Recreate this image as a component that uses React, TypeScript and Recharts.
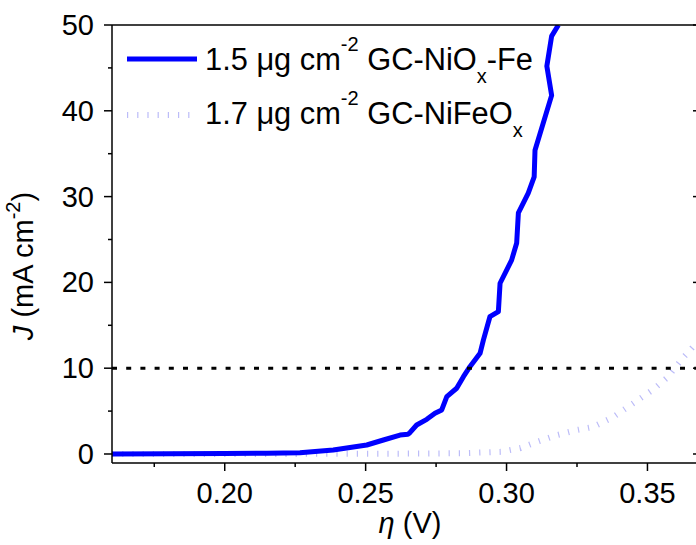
import { LineChart, Line, XAxis, YAxis, ReferenceLine, Label } from 'recharts'

// ─── Style ───────────────────────────────────────────────────────────────────
const FONT = 'Arial, "Liberation Sans", sans-serif'
const BLUE = '#0000ff'
const LAVENDER = '#bcbcf8'
const INK = '#000000'

// ─── Data: GC-NiOx-Fe (1.5 µg cm-2) ─────────────────────────────────────────
const etaFe = [
  0.160, 0.180, 0.200, 0.215, 0.2267, 0.2385, 0.2504, 0.2563, 0.2622, 0.2650,
  0.2657, 0.2681, 0.2717, 0.2746, 0.2770, 0.2788, 0.2823, 0.2847, 0.2870, 0.2906,
  0.2918, 0.2941, 0.2971, 0.2977, 0.3018, 0.3036, 0.3042, 0.3077, 0.3098, 0.3101,
  0.3160, 0.3143, 0.3160, 0.3184,
]
const jFe = [
  0.0, 0.02, 0.05, 0.1, 0.15, 0.47, 1.05, 1.63, 2.21, 2.3,
  2.48, 3.38, 4.04, 4.74, 5.13, 6.68, 7.66, 9.01, 10.17, 11.74,
  13.3, 16.0, 16.6, 19.9, 22.6, 24.6, 28.1, 30.4, 32.3, 35.4,
  41.8, 45.2, 48.7, 50.0,
]

// ─── Data: GC-NiFeOx (1.7 µg cm-2) ──────────────────────────────────────────
const etaNiFe = [
  0.160, 0.200, 0.240, 0.270, 0.285, 0.298, 0.305, 0.3107, 0.3179, 0.3250,
  0.3307, 0.3378, 0.3449, 0.3520, 0.3570, 0.3626, 0.3690,
]
const jNiFe = [
  0.0, 0.0, 0.02, 0.05, 0.1, 0.25, 0.7, 1.4, 2.2, 2.8,
  3.15, 4.3, 5.9, 7.5, 8.9, 11.2, 13.5,
]

// ─── Axes ─────────────────────────────────────────────────────────────────────
const xDomain = [0.16, 0.369]
const yDomain = [-1.05, 50]
const xMajor = [0.2, 0.25, 0.3, 0.35]
const xMinor = [0.175, 0.225, 0.275, 0.325]
const topTicks = [0.181, 0.2164, 0.2516, 0.2867, 0.3218, 0.3571]
const yMajor = [0, 10, 20, 30, 40, 50]
const yMinor = [5, 15, 25, 35, 45]
const refJ = 10

const feData = etaFe.map((eta, i) => ({ eta, j: jFe[i] }))
const niFeData = etaNiFe.map((eta, i) => ({ eta, j: jNiFe[i] }))
const xTicks = [...xMinor, ...xMajor].sort((a, b) => a - b)
const yTicks = [...yMajor, ...yMinor].sort((a, b) => a - b)

// ─── Tick renderers (tickSize/tickMargin are 0, so x/y sit on the axis) ──────
function BottomTick({ x, y, payload }: any) {
  const major = xMajor.includes(payload.value)
  return (
    <g>
      <line x1={x} x2={x} y1={y} y2={y + (major ? 8 : 4)} stroke={INK} strokeWidth={1.5} />
      {major && (
        <text x={x} y={y + 40} textAnchor="middle" fontSize={29} fontFamily={FONT} fill={INK}>
          {payload.value.toFixed(2)}
        </text>
      )}
    </g>
  )
}

function TopTick({ x, y }: any) {
  return <line x1={x} x2={x} y1={y} y2={y + 6} stroke={INK} strokeWidth={1.5} />
}

function LeftTick({ x, y, payload }: any) {
  const major = yMajor.includes(payload.value)
  return (
    <g>
      <line x1={x - (major ? 8 : 4)} x2={x} y1={y} y2={y} stroke={INK} strokeWidth={1.5} />
      {major && (
        <text x={x - 18} y={y + 10} textAnchor="end" fontSize={29} fontFamily={FONT} fill={INK}>
          {payload.value}
        </text>
      )}
    </g>
  )
}

function RightTick({ x, y, payload }: any) {
  const major = yMajor.includes(payload.value)
  return <line x1={x - (major ? 8 : 4)} x2={x} y1={y} y2={y} stroke={INK} strokeWidth={1.5} />
}

// ─── Axis titles ──────────────────────────────────────────────────────────────
function XTitle() {
  return (
    <text x={410} y={533} textAnchor="middle" fontSize={29} fontFamily={FONT} fill={INK}>
      <tspan fontStyle="italic">η</tspan>
      {' (V)'}
    </text>
  )
}

function YTitle() {
  return (
    <text transform="rotate(-90)" x={-266} y={33} textAnchor="middle" fontSize={29} fontFamily={FONT} fill={INK}>
      <tspan fontStyle="italic">J</tspan>
      {' (mA cm'}
      <tspan dy={-13} fontSize={20}>-2</tspan>
      <tspan dy={13}>)</tspan>
    </text>
  )
}

// ─── Legend ───────────────────────────────────────────────────────────────────
const legendItems = [
  { lead: '1.5 ', mid: ' GC-NiO', tail: '-Fe', color: BLUE, dash: undefined, width: 5, y: 59, base: 70 },
  { lead: '1.7 ', mid: ' GC-NiFeO', tail: '', color: LAVENDER, dash: '1.2 9', width: 6, y: 115, base: 123.5 },
]

function LegendBox() {
  return (
    <svg width={696} height={150} style={{ position: 'absolute', left: 0, top: 0, pointerEvents: 'none' }}>
      {legendItems.map((it, i) => (
        <g key={i}>
          <line x1={127} x2={197} y1={it.y} y2={it.y} stroke={it.color} strokeWidth={it.width} strokeDasharray={it.dash} />
          <text x={205} y={it.base} fontSize={30.8} fontFamily={FONT} fill={INK}>
            {it.lead}μg cm
            <tspan dy={-19} fontSize={20}>-2</tspan>
            <tspan dy={19}>{it.mid}</tspan>
            <tspan dy={13} fontSize={20}>x</tspan>
            <tspan dy={-13}>{it.tail}</tspan>
          </text>
        </g>
      ))}
    </svg>
  )
}

export default function App() {
  return (
    <div style={{ position: 'absolute', left: 0, top: 0, width: 696, height: 545, overflow: 'hidden', background: '#fff' }}>
      <LineChart width={720} height={545} margin={{ top: 24, right: 18, bottom: 81, left: 111 }}>
        <XAxis
          xAxisId="b" type="number" dataKey="eta" domain={xDomain} allowDataOverflow
          ticks={xTicks} interval={0}
          height={1} tickSize={0} tickMargin={0} tickLine={false}
          tick={<BottomTick />} axisLine={{ stroke: INK, strokeWidth: 1.5 }}
        >
          <Label content={<XTitle />} />
        </XAxis>
        <XAxis
          xAxisId="t" orientation="top" type="number" domain={xDomain} allowDataOverflow
          ticks={topTicks} interval={0} height={1} tickSize={0} tickMargin={0} tickLine={false}
          tick={<TopTick />} axisLine={{ stroke: INK, strokeWidth: 1.5 }}
        />
        <YAxis
          yAxisId="l" type="number" domain={yDomain} allowDataOverflow
          ticks={yTicks} interval={0}
          width={1} tickSize={0} tickMargin={0} tickLine={false}
          tick={<LeftTick />} axisLine={{ stroke: INK, strokeWidth: 1.5 }}
        >
          <Label content={<YTitle />} />
        </YAxis>
        <YAxis
          yAxisId="r" orientation="right" type="number" domain={yDomain} allowDataOverflow
          ticks={yTicks} interval={0}
          width={1} tickSize={0} tickMargin={0} tickLine={false}
          tick={<RightTick />} axisLine={{ stroke: INK, strokeWidth: 1.5 }}
        />
        <Line
          xAxisId="b" yAxisId="l" data={niFeData} dataKey="j" type="linear"
          stroke={LAVENDER} strokeWidth={6} strokeDasharray="1.2 9" dot={false}
          isAnimationActive={false}
        />
        <Line
          xAxisId="b" yAxisId="l" data={feData} dataKey="j" type="linear"
          stroke={BLUE} strokeWidth={5} strokeLinejoin="round" dot={false}
          isAnimationActive={false}
        />
        <ReferenceLine xAxisId="b" yAxisId="l" y={refJ} stroke={INK} strokeWidth={3} strokeDasharray="5 9.2" />
      </LineChart>
      <LegendBox />
    </div>
  )
}
